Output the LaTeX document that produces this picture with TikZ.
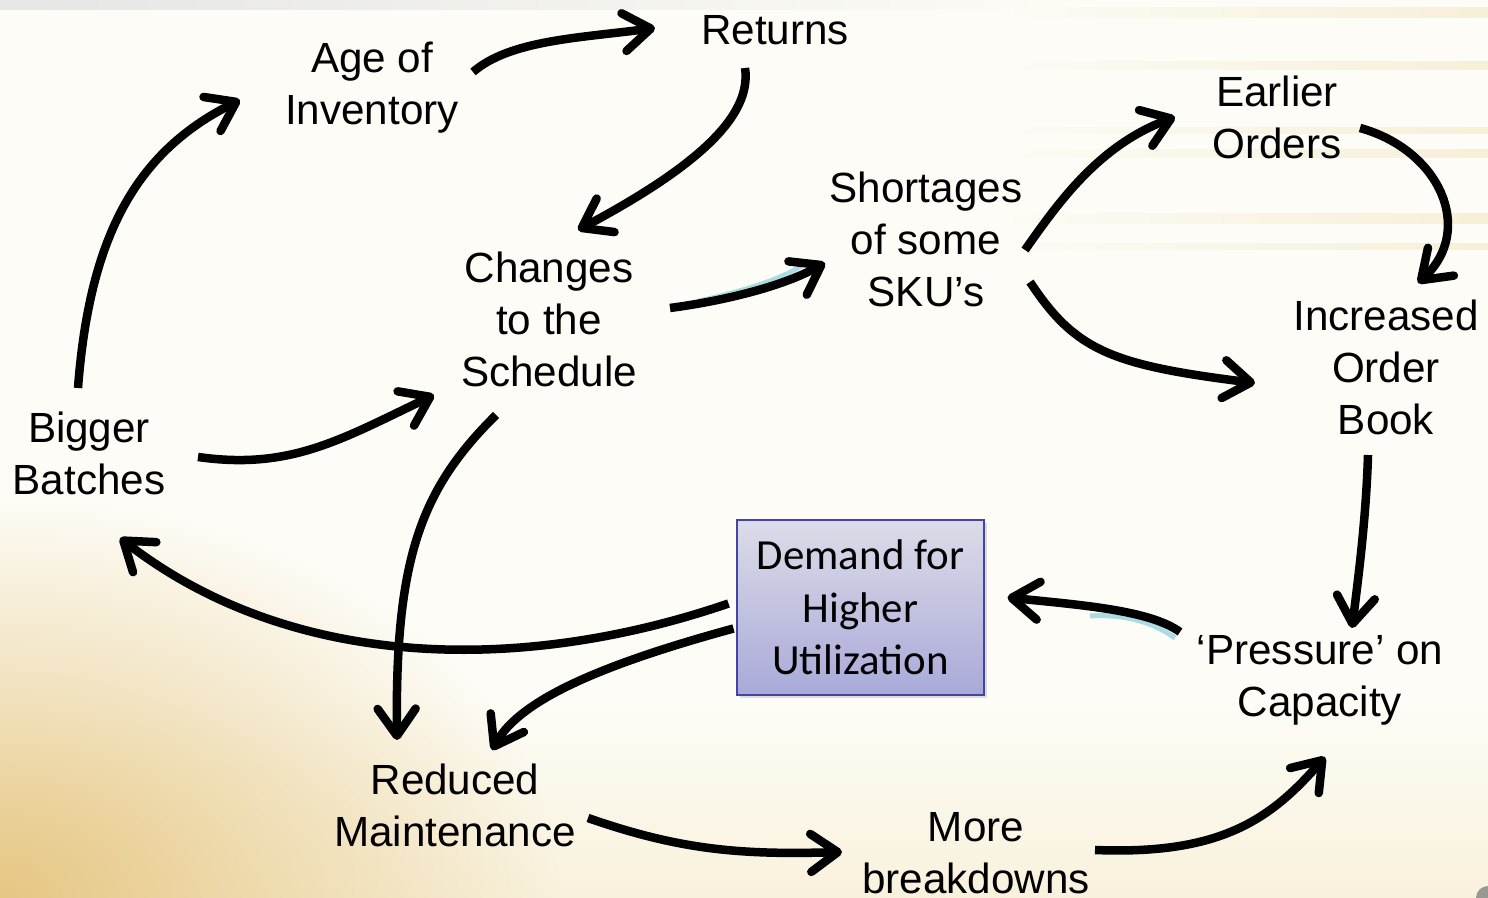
\documentclass[tikz,border=0pt]{standalone}
\usepackage{fontspec}
\setmainfont{Liberation Sans}
\newfontfamily\boxfont{Carlito}
\usetikzlibrary{arrows.meta,calc,fadings,shadows}
\definecolor{bgcream}{HTML}{FDFCF6}
\definecolor{bgtan}{HTML}{E6C784}
\definecolor{streak}{HTML}{F5EACB}
\definecolor{boxtop}{HTML}{DCDCE9}
\definecolor{boxbot}{HTML}{A9A9D9}
\definecolor{boxline}{HTML}{4343A8}
\definecolor{glow}{HTML}{ABDCE4}
\tikzfading[name=softspot, inner color=transparent!0, outer color=transparent!100]
\tikzset{
  lbl/.style={align=center, font=\fontsize{12}{14.8}\selectfont, inner sep=0pt},
  conn/.style={line width=0.085cm, -{Straight Barb[length=0.27cm,width=0.38cm,round]}},
  glowline/.style={glow, line width=0.05cm},
  demandbox/.style={draw=boxline, line width=0.025cm, top color=boxtop, bottom color=boxbot,
    minimum width=2.47cm, minimum height=1.75cm, align=center,
    font=\boxfont\fontsize{12.2}{15}\selectfont,
    drop shadow={shadow xshift=0.03cm, shadow yshift=-0.03cm, fill=black!25}}
}
\begin{document}
\begin{tikzpicture}[x=0.01cm,y=-0.01cm]
% background
\useasboundingbox (0,0) rectangle (1488,898);
\fill[bgcream] (0,0) rectangle (1488,898);
\shade[top color=bgcream, bottom color=streak!60!bgcream] (0,700) rectangle (1488,898);
\fill[bgtan, path fading=softspot] (0,898) ellipse (560 and 400);
% top edge shadow and right-hand streaks
\shade[left color=black!10, right color=bgcream] (0,0) rectangle (1100,10);
\foreach \y/\h in {8/10, 62/8, 128/6, 150/8, 214/10, 244/6} {
  \shade[left color=bgcream, right color=streak, opacity=0.7] (1000,\y) rectangle (1488,\y+\h);
}
\fill[black!55, opacity=0.7] (1488,898) circle (12);

% nodes
\node[lbl] (returns)    at (775,30)   {Returns};
\node[lbl] (age)        at (372,88)   {Age of\\Inventory};
\node[lbl] (changes)    at (549,319)  {Changes\\to the\\Schedule};
\node[lbl] (shortages)  at (926,239)  {Shortages\\of some\\SKU’s};
\node[lbl] (earlier)    at (1277,117) {Earlier\\Orders};
\node[lbl] (increased)  at (1386,367) {Increased\\Order\\Book};
\node[lbl] (bigger)     at (89,453)   {Bigger\\Batches};
\node[demandbox] (demand) at (860.5,607.5) {Demand for\\Higher\\Utilization};
\node[lbl] (pressure)   at (1320,680) {‘Pressure’ on\\Capacity};
\node[lbl] (reduced)    at (455,805)  {Reduced\\Maintenance};
\node[lbl] (breakdowns) at (976,853)  {More\\breakdowns};

% soft glow under two of the arrows
\draw[glowline] ($(changes)+(150,-18)$) .. controls (740,292) and (780,280) .. ($(shortages)+(-125,27)$);
\draw[glowline] ($(pressure)+(-145,-42)$) .. controls (1150,620) and (1120,614) .. ($(pressure)+(-230,-64)$);

% connectors
\draw[conn] ($(age)+(101,-16)$) .. controls (510,40) and (580,38) .. ($(returns)+(-120,-2)$);
\draw[conn] ($(returns)+(-30,38)$) .. controls (752,115) and (700,165) .. ($(changes)+(29,-89)$);
\draw[conn] ($(changes)+(121,-11)$) .. controls (730,300) and (785,285) .. ($(shortages)+(-101,24)$);
\draw[conn] ($(shortages)+(99,11)$) .. controls (1060,200) and (1100,145) .. ($(earlier)+(-102,0)$);
\draw[conn] ($(shortages)+(104,43)$) .. controls (1075,350) and (1110,365) .. ($(increased)+(-131,16)$);
\draw[conn] ($(earlier)+(83,11)$) .. controls (1440,150) and (1475,230) .. ($(increased)+(32,-84)$);
\draw[conn] ($(increased)+(-18,88)$) .. controls (1366,520) and (1358,580) .. ($(pressure)+(32,-52)$);
\draw[conn] ($(pressure)+(-140,-48)$) .. controls (1150,610) and (1080,605) .. ($(demand)+(147,-10)$);
\draw[conn] ($(demand)+(-132,-4)$) .. controls (520,675) and (290,670) .. ($(bigger)+(31,85)$);
\draw[conn] ($(demand)+(-127,21)$) .. controls (600,665) and (520,700) .. ($(reduced)+(37,-55)$);
\draw[conn] ($(changes)+(-53,96)$) .. controls (420,490) and (395,560) .. ($(reduced)+(-58,-65)$);
\draw[conn] ($(bigger)+(109,4)$) .. controls (290,470) and (340,440) .. ($(changes)+(-115,76)$);
\draw[conn] ($(bigger)+(-11,-65)$) .. controls (90,230) and (140,150) .. ($(age)+(-132,12)$);
\draw[conn] ($(reduced)+(133,13)$) .. controls (680,850) and (740,855) .. ($(breakdowns)+(-134,-1)$);
\draw[conn] ($(breakdowns)+(119,-3)$) .. controls (1220,855) and (1270,820) .. ($(pressure)+(5,77)$);
\end{tikzpicture}
\end{document}
